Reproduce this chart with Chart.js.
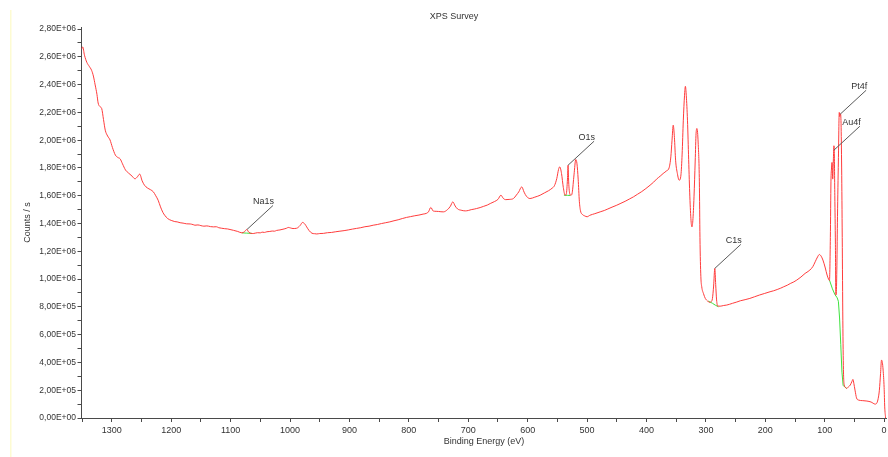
<!DOCTYPE html>
<html>
<head>
<meta charset="utf-8">
<title>XPS Survey</title>
<script src="https://cdn.jsdelivr.net/npm/chart.js@4/dist/chart.umd.min.js"></script>
<style>
  html, body { margin: 0; padding: 0; background: #fff; }
  #wrap { width: 888px; height: 457px; position: relative; }
</style>
</head>
<body>
<div id="wrap"><canvas id="c" width="888" height="457"></canvas></div>
<script>
// Survey spectrum: binding energy (eV) and intensity (counts/s)
const energy = [
  1351, 1349, 1346, 1342, 1338, 1334, 1331, 1328, 1325, 1323,
  1320, 1317, 1314, 1311, 1307, 1303, 1299, 1294, 1290, 1286,
  1282, 1277, 1272, 1266, 1261, 1257, 1253, 1249, 1245, 1240,
  1235, 1230, 1226, 1222, 1218, 1214, 1211, 1206, 1199, 1194,
  1190, 1185, 1180, 1174, 1168, 1163, 1160, 1155, 1150, 1145,
  1140, 1134, 1129, 1124, 1120, 1115, 1110, 1105, 1101, 1095,
  1088, 1081, 1077, 1073, 1069, 1062, 1055, 1050, 1047, 1043,
  1039, 1034, 1030, 1026, 1023, 1017, 1010, 1006, 1003, 999,
  995, 989, 983, 979, 975, 972, 968, 963, 959, 955,
  950, 944, 937, 930, 923, 916, 909, 902, 895, 888,
  881, 874, 867, 860, 853, 846, 839, 832, 825, 818,
  811, 804, 797, 790, 783, 776, 770, 767, 763, 759,
  754, 750, 746, 742, 735, 730, 726, 722, 718, 712,
  705, 700, 695, 690, 686, 680, 674, 668, 663, 656,
  650, 645, 641, 637, 630, 624, 619, 615, 610, 606,
  602, 596, 588, 583, 579, 572, 565, 559, 555, 551,
  548, 546, 543, 540, 537, 535, 533, 532, 531, 529,
  527, 525, 522, 519, 517, 515, 513, 511, 508, 504,
  500, 495, 487, 478, 471, 465, 458, 450, 443, 436,
  429, 422, 415, 408, 401, 394, 388, 383, 377, 372,
  366, 362, 359, 357, 355, 353, 351, 348, 345, 342,
  340, 338, 336, 334.5, 333, 331, 329, 327, 325, 323.5,
  322, 320, 318, 316.5, 315, 313, 311, 310, 308.5, 307,
  304, 301, 297, 294, 291, 289, 287, 285, 283.5, 282,
  280, 276, 270, 265, 260, 255, 248, 242, 234, 226,
  218, 210, 201, 192, 186, 180, 174, 169, 163, 158,
  152, 147, 140, 133, 128, 125, 120, 116, 112, 109,
  106, 103, 99, 96, 93, 92, 90.5, 89.5, 88.5, 87.7,
  86.5, 85.5, 84.5, 84, 83, 82, 81.3, 80.5, 79.5, 78.5,
  77, 75.5, 74.5, 73.5, 72.5, 71.5, 70.5, 69.5, 68.5, 67,
  65, 63, 60, 57, 54, 52.5, 51, 49, 46.5, 43,
  36, 29, 22, 15, 12, 10, 8, 6, 4.4, 3,
  1.7, 0, -1, -2.5
];
const counts = [
  2.655e6, 2.672e6, 2.612e6, 2.560e6, 2.532e6, 2.503e6, 2.462e6, 2.398e6, 2.330e6, 2.268e6,
  2.242e6, 2.228e6, 2.150e6, 2.072e6, 2.030e6, 2.002e6, 1.948e6, 1.893e6, 1.876e6, 1.866e6,
  1.830e6, 1.786e6, 1.764e6, 1.742e6, 1.722e6, 1.736e6, 1.756e6, 1.708e6, 1.676e6, 1.656e6,
  1.644e6, 1.628e6, 1.600e6, 1.568e6, 1.520e6, 1.480e6, 1.460e6, 1.436e6, 1.421e6, 1.414e6,
  1.412e6, 1.406e6, 1.403e6, 1.398e6, 1.397e6, 1.392e6, 1.388e6, 1.390e6, 1.385e6, 1.381e6,
  1.383e6, 1.378e6, 1.376e6, 1.377e6, 1.370e6, 1.366e6, 1.363e6, 1.361e6, 1.357e6, 1.351e6,
  1.343e6, 1.333e6, 1.340e6, 1.357e6, 1.336e6, 1.328e6, 1.334e6, 1.333e6, 1.338e6, 1.336e6,
  1.341e6, 1.343e6, 1.346e6, 1.345e6, 1.350e6, 1.354e6, 1.361e6, 1.366e6, 1.372e6, 1.368e6,
  1.364e6, 1.366e6, 1.386e6, 1.408e6, 1.396e6, 1.376e6, 1.350e6, 1.330e6, 1.327e6, 1.325e6,
  1.328e6, 1.329e6, 1.334e6, 1.336e6, 1.341e6, 1.345e6, 1.349e6, 1.354e6, 1.360e6, 1.365e6,
  1.370e6, 1.377e6, 1.381e6, 1.388e6, 1.393e6, 1.400e6, 1.406e6, 1.412e6, 1.420e6, 1.427e6,
  1.436e6, 1.444e6, 1.450e6, 1.456e6, 1.461e6, 1.468e6, 1.474e6, 1.484e6, 1.516e6, 1.490e6,
  1.488e6, 1.487e6, 1.485e6, 1.484e6, 1.500e6, 1.525e6, 1.556e6, 1.526e6, 1.505e6, 1.496e6,
  1.491e6, 1.494e6, 1.500e6, 1.504e6, 1.508e6, 1.515e6, 1.524e6, 1.533e6, 1.544e6, 1.558e6,
  1.574e6, 1.604e6, 1.581e6, 1.572e6, 1.574e6, 1.580e6, 1.605e6, 1.628e6, 1.664e6, 1.626e6,
  1.596e6, 1.580e6, 1.590e6, 1.597e6, 1.604e6, 1.620e6, 1.636e6, 1.654e6, 1.672e6, 1.724e6,
  1.790e6, 1.808e6, 1.760e6, 1.660e6, 1.604e6, 1.612e6, 1.720e6, 1.820e6, 1.700e6, 1.612e6,
  1.604e6, 1.622e6, 1.750e6, 1.861e6, 1.830e6, 1.720e6, 1.560e6, 1.490e6, 1.466e6, 1.455e6,
  1.449e6, 1.460e6, 1.471e6, 1.484e6, 1.494e6, 1.505e6, 1.518e6, 1.532e6, 1.546e6, 1.560e6,
  1.576e6, 1.592e6, 1.611e6, 1.630e6, 1.652e6, 1.676e6, 1.698e6, 1.720e6, 1.741e6, 1.760e6,
  1.780e6, 1.800e6, 1.880e6, 2.000e6, 2.108e6, 2.020e6, 1.856e6, 1.760e6, 1.712e6, 1.750e6,
  1.900e6, 2.144e6, 2.320e6, 2.388e6, 2.320e6, 2.144e6, 1.860e6, 1.592e6, 1.420e6, 1.376e6,
  1.420e6, 1.592e6, 1.850e6, 2.050e6, 2.084e6, 1.980e6, 1.700e6, 1.300e6, 1.020e6, 0.945e6,
  0.895e6, 0.861e6, 0.842e6, 0.832e6, 0.838e6, 0.860e6, 0.950e6, 1.077e6, 0.960e6, 0.850e6,
  0.806e6, 0.805e6, 0.810e6, 0.813e6, 0.819e6, 0.826e6, 0.835e6, 0.844e6, 0.852e6, 0.861e6,
  0.873e6, 0.885e6, 0.897e6, 0.909e6, 0.916e6, 0.925e6, 0.935e6, 0.945e6, 0.956e6, 0.968e6,
  0.980e6, 0.993e6, 1.015e6, 1.041e6, 1.055e6, 1.065e6, 1.090e6, 1.125e6, 1.160e6, 1.177e6,
  1.165e6, 1.137e6, 1.080e6, 1.029e6, 0.995e6, 0.990e6, 1.300e6, 1.700e6, 1.800e6, 1.840e6,
  1.720e6, 1.850e6, 1.960e6, 1.940e6, 1.600e6, 1.250e6, 0.885e6, 0.900e6, 1.100e6, 1.450e6,
  1.850e6, 2.200e6, 2.170e6, 2.190e6, 2.120e6, 1.800e6, 1.300e6, 0.700e6, 0.350e6, 0.237e6,
  0.220e6, 0.213e6, 0.225e6, 0.237e6, 0.265e6, 0.278e6, 0.250e6, 0.201e6, 0.145e6, 0.129e6,
  0.125e6, 0.122e6, 0.115e6, 0.100e6, 0.110e6, 0.140e6, 0.200e6, 0.320e6, 0.417e6, 0.400e6,
  0.345e6, 0.220e6, 0.080e6, 0.000e6
];

// Background lines under the quantified peaks
const naBgEnergy = [1081, 1073, 1064];
const naBgCounts = [1.333e6, 1.331e6, 1.329e6];
const oBgEnergy = [539, 533, 528];
const oBgCounts = [1.604e6, 1.603e6, 1.602e6];
const cBgEnergy = [296, 289, 284, 279];
const cBgCounts = [0.842e6, 0.826e6, 0.812e6, 0.801e6];
const auPtBgEnergy = [92, 87, 83, 79, 77, 75, 73, 71, 69, 66, 63];
const auPtBgCounts = [0.993e6, 0.930e6, 0.890e6, 0.865e6, 0.840e6, 0.720e6, 0.530e6, 0.330e6, 0.235e6, 0.222e6, 0.213e6];

// Peak labels and the point each leader line points to
const peakNames = ['Na1s', 'O1s', 'C1s', 'Au4f', 'Pt4f'];
const peakEnergy = [1072.5, 532, 285, 84.6, 74];
const peakCounts = [1.357e6, 1.820e6, 1.077e6, 1.928e6, 2.187e6];

// Axis ticks (major ticks carry labels, the ones in between are unlabeled)
const xTickValues = [0, 50, 100, 150, 200, 250, 300, 350, 400, 450, 500, 550, 600, 650,
  700, 750, 800, 850, 900, 950, 1000, 1050, 1100, 1150, 1200, 1250, 1300, 1350];
const yTickValues = [0, 1e5, 2e5, 3e5, 4e5, 5e5, 6e5, 7e5, 8e5, 9e5, 1e6, 1.1e6, 1.2e6, 1.3e6,
  1.4e6, 1.5e6, 1.6e6, 1.7e6, 1.8e6, 1.9e6, 2e6, 2.1e6, 2.2e6, 2.3e6, 2.4e6, 2.5e6, 2.6e6, 2.7e6, 2.8e6];

const FONT = "'Liberation Sans', Arial, sans-serif";
const TEXT = '#333333';
const AXIS = '#4a4a4a';

function toPoints(xs, ys) {
  return xs.map((x, i) => ({ x: x, y: ys[i] }));
}

// "2,80E+06" style scientific labels
function sciLabel(v) {
  if (v === 0) return '0,00E+00';
  const e = Math.floor(Math.log10(v) + 1e-9);
  const m = (v / Math.pow(10, e)).toFixed(2).replace('.', ',');
  return m + 'E' + (e >= 0 ? '+' : '-') + String(Math.abs(e)).padStart(2, '0');
}

function bgSet(xs, ys) {
  return {
    data: toPoints(xs, ys), showLine: true, borderColor: '#3ee23e', borderWidth: 1,
    pointRadius: 0, tension: 0, fill: false
  };
}

const decor = {
  id: 'decor',
  beforeDraw(chart) {
    const c = chart.ctx;
    c.save();
    c.fillStyle = '#ffffff';
    c.fillRect(0, 0, chart.width, chart.height);
    c.fillStyle = '#fdfbd2';
    c.fillRect(10, 10, 1.5, chart.height - 10);
    c.restore();
  },
  afterDatasetsDraw(chart) {
    const c = chart.ctx;
    const xs = chart.scales.x, ys = chart.scales.y;
    c.save();
    c.font = '9px ' + FONT;
    c.textAlign = 'right';
    c.textBaseline = 'middle';
    peakNames.forEach((name, i) => {
      const px = xs.getPixelForValue(peakEnergy[i]);
      const py = ys.getPixelForValue(peakCounts[i]);
      const ex = px + 26, ey = py - 24;
      c.strokeStyle = '#5a5a5a';
      c.lineWidth = 1;
      c.beginPath();
      c.moveTo(px, py);
      c.lineTo(ex, ey);
      c.stroke();
      c.fillStyle = TEXT;
      c.fillText(name, ex + 1, ey - 4);
    });
    // chart title
    c.textAlign = 'center';
    c.fillText('XPS Survey', 454, 17);
    c.restore();
  }
};

new Chart(document.getElementById('c').getContext('2d'), {
  type: 'scatter',
  data: {
    datasets: [
      {
        data: toPoints(energy, counts), showLine: true, borderColor: '#ff3c3c', borderWidth: 1,
        pointRadius: 0, cubicInterpolationMode: 'monotone', fill: false
      },
      bgSet(naBgEnergy, naBgCounts),
      bgSet(oBgEnergy, oBgCounts),
      bgSet(cBgEnergy, cBgCounts),
      bgSet(auPtBgEnergy, auPtBgCounts)
    ]
  },
  options: {
    responsive: false,
    animation: false,
    devicePixelRatio: 1,
    layout: { padding: { left: 0, right: 1.5, top: 27, bottom: 0 } },
    plugins: { legend: { display: false }, tooltip: { enabled: false }, title: { display: false } },
    scales: {
      x: {
        type: 'linear', reverse: true, min: -4, max: 1351,
        afterBuildTicks: s => { s.ticks = xTickValues.map(v => ({ value: v })); },
        afterFit: s => { s.height = 39; },
        ticks: {
          autoSkip: false, maxRotation: 0, padding: 3, color: TEXT,
          font: { size: 9, family: FONT },
          callback: v => (v % 100 === 0 ? String(v) : '')
        },
        grid: { display: true, drawOnChartArea: false, drawTicks: true, tickLength: 4, color: AXIS },
        border: { display: true, color: AXIS, width: 1 },
        title: {
          display: true, text: 'Binding Energy (eV)', color: TEXT,
          font: { size: 9, family: FONT }, padding: { top: 0, bottom: 10 }
        }
      },
      y: {
        type: 'linear', min: 0, max: 2.815e6,
        afterBuildTicks: s => { s.ticks = yTickValues.map(v => ({ value: v })); },
        afterFit: s => { s.width = 81.5; },
        ticks: {
          autoSkip: false, padding: 1.5, color: TEXT,
          font: { size: 8.5, family: FONT },
          callback: (v, i) => (i % 2 === 0 ? sciLabel(v) : '')
        },
        grid: { display: true, drawOnChartArea: false, drawTicks: true, tickLength: 4, color: AXIS },
        border: { display: true, color: AXIS, width: 1 },
        title: {
          display: true, text: 'Counts / s', color: TEXT,
          font: { size: 9, family: FONT }, padding: { top: 22, bottom: 0 }
        }
      }
    }
  },
  plugins: [decor]
});
</script>
</body>
</html>
